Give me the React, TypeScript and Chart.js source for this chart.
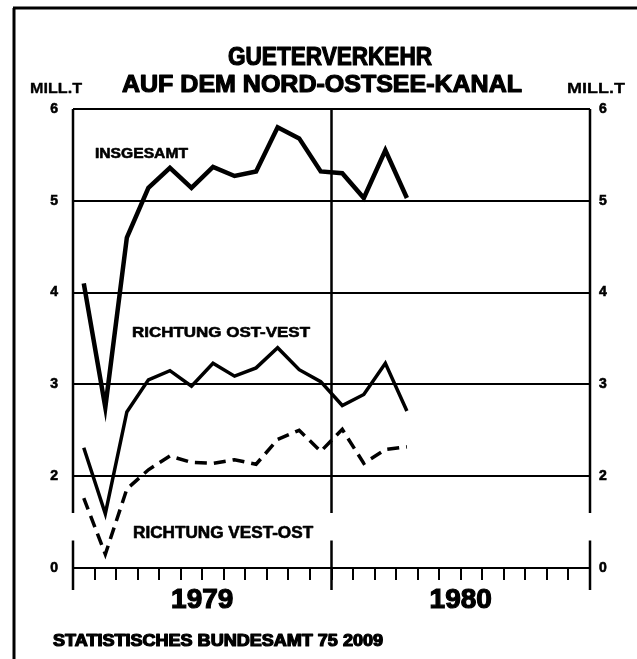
import React, { useEffect, useRef } from 'react';
import { Chart, registerables } from 'chart.js';

Chart.register(...registerables);

// ---------- data ----------
const years = ['1979', '1980'];
const periods = [
  '1979-01', '1979-02', '1979-03', '1979-04', '1979-05', '1979-06',
  '1979-07', '1979-08', '1979-09', '1979-10', '1979-11', '1979-12',
  '1980-01', '1980-02', '1980-03', '1980-04',
];
// Mill. t per month
const insgesamt = [4.1, 2.75, 4.6, 5.14, 5.36, 5.14, 5.37, 5.27, 5.32, 5.8, 5.68, 5.32, 5.3, 5.03, 5.55, 5.03];
const ostWest = [2.31, 1.59, 2.7, 3.05, 3.15, 2.98, 3.23, 3.09, 3.18, 3.4, 3.16, 3.03, 2.77, 2.89, 3.23, 2.71];
const westOst = [1.76, 1.15, 1.86, 2.07, 2.22, 2.15, 2.14, 2.18, 2.13, 2.4, 2.5, 2.27, 2.51, 2.14, 2.29, 2.32];
const yTickValues = [1, 2, 3, 4, 5, 6];
const yTickLabels = ['0', '2', '3', '4', '5', '6'];
const titleLines = ['GUETERVERKEHR', 'AUF DEM NORD-OSTSEE-KANAL'];
const unitLabel = 'MILL.T';
const sourceText = 'STATISTISCHES BUNDESAMT 75 2009';
const seriesNames = ['INSGESAMT', 'RICHTUNG OST-VEST', 'RICHTUNG VEST-OST'];

// ---------- helpers ----------
const FONT = "'Liberation Sans', Arial, sans-serif";
const W = 637;
const H = 659;

function monthPos(p: string): number {
  const [yy, mm] = p.split('-');
  return years.indexOf(yy) * 12 + (Number(mm) - 1) + 0.5;
}

function toPoints(values: number[]) {
  return periods.map((p, i) => ({ x: monthPos(p), y: values[i] }));
}

function fitText(
  ctx: CanvasRenderingContext2D,
  text: string,
  x: number,
  baseline: number,
  width: number,
  size: number,
  stroke = 0.7,
) {
  ctx.save();
  ctx.font = `bold ${size}px ${FONT}`;
  ctx.textBaseline = 'alphabetic';
  ctx.textAlign = 'left';
  ctx.fillStyle = '#000';
  ctx.strokeStyle = '#000';
  const w = ctx.measureText(text).width;
  ctx.translate(x, baseline);
  ctx.scale(width / w, 1);
  ctx.fillText(text, 0, 0);
  if (stroke > 0) {
    ctx.lineWidth = stroke;
    ctx.lineJoin = 'round';
    ctx.strokeText(text, 0, 0);
  }
  ctx.restore();
}

const decorPlugin = {
  id: 'decor',
  beforeDatasetsDraw(chart: any) {
    const { ctx, scales } = chart;
    const x = scales.x;
    const y = scales.y;
    const yTop = y.getPixelForValue(6);
    const yBreakTop = y.getPixelForValue(1.6);
    const yBreakBottom = y.getPixelForValue(1.3);
    const yEnd = y.getPixelForValue(1) + 22;
    ctx.save();
    ctx.strokeStyle = '#000';
    ctx.lineWidth = 2.5;
    for (const v of [0, 12, 24]) {
      const px = x.getPixelForValue(v);
      ctx.beginPath();
      ctx.moveTo(px, yTop);
      ctx.lineTo(px, yBreakTop);
      ctx.moveTo(px, yBreakBottom);
      ctx.lineTo(px, yEnd);
      ctx.stroke();
    }
    ctx.restore();
  },
  afterDraw(chart: any) {
    const { ctx, scales } = chart;
    const x = scales.x;
    const y = scales.y;
    // outer frame (top + left rule)
    ctx.save();
    ctx.strokeStyle = '#000';
    ctx.lineWidth = 3;
    ctx.beginPath();
    ctx.moveTo(13, 8);
    ctx.lineTo(W, 8);
    ctx.moveTo(14, 8);
    ctx.lineTo(14, H);
    ctx.stroke();
    ctx.restore();

    // title
    fitText(ctx, titleLines[0], 228, 65, 204, 25, 1.2);
    fitText(ctx, titleLines[1], 122, 92, 400, 24, 1.2);
    // units
    fitText(ctx, unitLabel, 30, 93, 52, 14, 0.3);
    fitText(ctx, unitLabel, 567, 93, 58, 14, 0.3);
    // source
    fitText(ctx, sourceText, 53, 646, 330, 16, 1.2);

    // series annotations, placed on the scales
    fitText(ctx, seriesNames[0], x.getPixelForValue(1.02), y.getPixelForValue(5.47), 93, 15, 0.6);
    fitText(ctx, seriesNames[1], x.getPixelForValue(2.74), y.getPixelForValue(3.52), 178, 15, 0.6);
    fitText(ctx, seriesNames[2], x.getPixelForValue(2.79), y.getPixelForValue(1.33), 180, 16, 0.6);
  },
};

export default function App() {
  const canvasRef = useRef<HTMLCanvasElement | null>(null);

  useEffect(() => {
    const canvas = canvasRef.current;
    if (!canvas) return;
    const tickFont = { family: FONT, size: 14, weight: 'bold' as const };
    const chart = new Chart(canvas, {
      type: 'line',
      data: {
        datasets: [
          {
            label: seriesNames[0],
            data: toPoints(insgesamt),
            borderColor: '#000',
            borderWidth: 4.5,
            pointRadius: 0,
            tension: 0,
            yAxisID: 'y',
          },
          {
            label: seriesNames[1],
            data: toPoints(ostWest),
            borderColor: '#000',
            borderWidth: 3.5,
            pointRadius: 0,
            tension: 0,
            yAxisID: 'y',
          },
          {
            label: seriesNames[2],
            data: toPoints(westOst),
            borderColor: '#000',
            borderWidth: 3.5,
            borderDash: [12, 7],
            pointRadius: 0,
            tension: 0,
            yAxisID: 'y',
          },
        ],
      },
      options: {
        animation: false,
        responsive: false,
        devicePixelRatio: 1,
        events: [],
        layout: { padding: { top: 109, left: 0, right: 0, bottom: 0 } },
        plugins: {
          legend: { display: false },
          title: { display: false },
          tooltip: { enabled: false },
        },
        scales: {
          x: {
            type: 'linear',
            min: 0,
            max: 24,
            afterFit: (s: any) => { s.height = 91; },
            border: { display: false },
            grid: {
              drawOnChartArea: false,
              drawTicks: true,
              tickLength: 12,
              color: '#000',
              lineWidth: 2,
            },
            ticks: {
              stepSize: 1,
              autoSkip: false,
              maxRotation: 0,
              minRotation: 0,
              padding: 3,
              color: '#000',
              textStrokeColor: '#000',
              textStrokeWidth: 1.2,
              font: { family: FONT, size: 28, weight: 'bold' },
              callback: (v: any) => {
                const n = Number(v);
                return n % 12 === 6 ? years[Math.floor(n / 12)] : '';
              },
            },
          },
          y: {
            type: 'linear',
            position: 'left',
            min: 1,
            max: 6,
            afterFit: (s: any) => { s.width = 73; },
            afterBuildTicks: (s: any) => { s.ticks = yTickValues.map((v) => ({ value: v })); },
            border: { display: false },
            grid: { color: '#000', lineWidth: 2, drawTicks: false },
            ticks: {
              padding: 15,
              color: '#000',
              textStrokeColor: '#000',
              textStrokeWidth: 0.6,
              font: tickFont,
              callback: (v: any) => yTickLabels[yTickValues.indexOf(Number(v))],
            },
          },
          y2: {
            type: 'linear',
            position: 'right',
            min: 1,
            max: 6,
            afterFit: (s: any) => { s.width = 47; },
            afterBuildTicks: (s: any) => { s.ticks = yTickValues.map((v) => ({ value: v })); },
            border: { display: false },
            grid: { display: false, drawTicks: false },
            ticks: {
              padding: 9,
              color: '#000',
              textStrokeColor: '#000',
              textStrokeWidth: 0.6,
              font: tickFont,
              callback: (v: any) => yTickLabels[yTickValues.indexOf(Number(v))],
            },
          },
        },
      },
      plugins: [decorPlugin],
    });
    return () => chart.destroy();
  }, []);

  return (
    <div style={{ position: 'fixed', left: 0, top: 0, width: W, height: H, background: '#fff' }}>
      <canvas ref={canvasRef} width={W} height={H} style={{ display: 'block' }} />
    </div>
  );
}
